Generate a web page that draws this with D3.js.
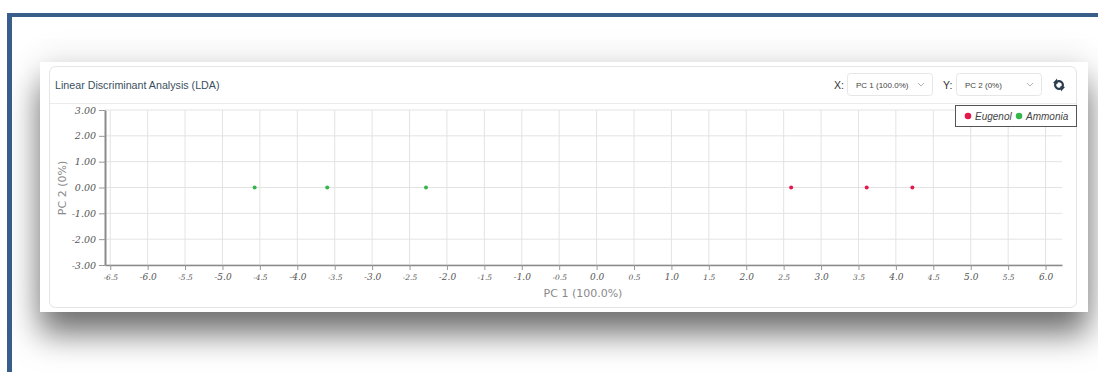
<!DOCTYPE html>
<html><head><meta charset="utf-8">
<script src="https://cdn.jsdelivr.net/npm/d3@7"></script>
<style>
html,body{margin:0;padding:0;width:1098px;height:372px;overflow:hidden;background:#fff;}
#frame{position:absolute;left:7px;top:13px;width:1100px;height:380px;border-left:5px solid #3a5e8c;border-top:4px solid #3a5e8c;box-sizing:border-box;}
#shadowbox{position:absolute;left:40px;top:62px;width:1048px;height:250px;background:#fff;box-shadow:0 22px 30px rgba(0,0,0,0.55),0 -6px 30px rgba(0,0,0,0.08);}
svg{position:absolute;left:0;top:0;}
</style></head>
<body>
<div id="frame"></div>
<div id="shadowbox"></div>
<svg id="chart" width="1098" height="372"></svg>
<script>
// ---- data ----
const seriesNames = ["Eugenol", "Ammonia"];
const seriesColors = ["#e3194c", "#35b64b"];
const eugenolX = [2.60, 3.61, 4.22];
const eugenolY = [0, 0, 0];
const ammoniaX = [-4.57, -3.60, -2.28];
const ammoniaY = [0, 0, 0];
const xTicks = [-6.5,-6.0,-5.5,-5.0,-4.5,-4.0,-3.5,-3.0,-2.5,-2.0,-1.5,-1.0,-0.5,0.0,0.5,1.0,1.5,2.0,2.5,3.0,3.5,4.0,4.5,5.0,5.5,6.0];
const yTicks = [-3,-2,-1,0,1,2,3];
const titleText = "Linear Discriminant Analysis (LDA)";
const xLabel = "PC 1 (100.0%)";
const yLabel = "PC 2 (0%)";
const xSelectText = "PC 1 (100.0%)";
const ySelectText = "PC 2 (0%)";

const svg = d3.select("#chart");
const fmtX = d => d.toFixed(1);
const fmtY = d => d.toFixed(2);

// card
svg.append("rect").attr("x",49.5).attr("y",66.5).attr("width",1027).attr("height",241)
  .attr("rx",6).attr("fill","#fff").attr("stroke","#e4e4e4");
svg.append("line").attr("x1",50).attr("x2",1076).attr("y1",103.5).attr("y2",103.5).attr("stroke","#ececec");
svg.append("text").attr("x",55).attr("y",89).text(titleText)
  .attr("font-family","Liberation Sans, Arial, sans-serif").attr("font-size",10.7).attr("fill","#3b4f5e");

// selects
function selectBox(label, lx, bx, txt){
  svg.append("text").attr("x",lx).attr("y",89).text(label)
    .attr("font-family","Liberation Sans, Arial, sans-serif").attr("font-size",10.5).attr("fill","#333");
  svg.append("rect").attr("x",bx+0.5).attr("y",73.5).attr("width",85).attr("height",22).attr("rx",3)
    .attr("fill","#fff").attr("stroke","#e6e6e6");
  svg.append("text").attr("x",bx+9).attr("y",88).text(txt)
    .attr("font-family","Liberation Sans, Arial, sans-serif").attr("font-size",8).attr("fill","#444");
  svg.append("path").attr("d",`M${bx+71},${83} l3,3 l3,-3`).attr("fill","none").attr("stroke","#aaa").attr("stroke-width",0.9);
}
selectBox("X:", 834, 847, xSelectText);
selectBox("Y:", 943, 956, ySelectText);

// refresh icon
const ic = svg.append("g").attr("transform","translate(1059,85)");
ic.append("path").attr("d", d3.arc()({innerRadius:2.6,outerRadius:5,startAngle:-Math.PI*0.3,endAngle:Math.PI*0.7})).attr("fill","#2b3e4f");
ic.append("path").attr("d", d3.arc()({innerRadius:2.6,outerRadius:5,startAngle:Math.PI*0.7,endAngle:Math.PI*1.7})).attr("fill","#2b3e4f");
ic.append("path").attr("d","M-6,-2 L-2,-6.5 L-1.5,-1Z").attr("fill","#2b3e4f");
ic.append("path").attr("d","M6,2 L2,6.5 L1.5,1Z").attr("fill","#2b3e4f");

// scales
const allX = eugenolX.concat(ammoniaX);
const x = d3.scaleLinear().domain([d3.min(allX)-2, d3.max(allX)+2]).range([105, 1062]);
const y = d3.scaleLinear().domain([-3, 3]).range([265, 110]);

// grid
const grid = svg.append("g");
grid.selectAll("line.v").data(xTicks).enter().append("line")
  .attr("x1",d=>x(d)).attr("x2",d=>x(d)).attr("y1",110).attr("y2",265)
  .attr("stroke","#e3e3e3").attr("stroke-width",1);
grid.selectAll("line.h").data(yTicks).enter().append("line")
  .attr("x1",105).attr("x2",1062).attr("y1",d=>y(d)).attr("y2",d=>y(d))
  .attr("stroke","#e3e3e3").attr("stroke-width",1);

// axes
const xAxis = svg.append("g").attr("transform","translate(0,265)")
  .call(d3.axisBottom(x).tickValues(xTicks).tickSize(5).tickSizeOuter(0).tickFormat(fmtX));
xAxis.select(".domain").attr("stroke","#8a8a8a").attr("stroke-width",1.5);
xAxis.selectAll(".tick line").attr("stroke","#999");
xAxis.selectAll(".tick text")
  .attr("font-family","DejaVu Serif, serif").attr("font-style","italic")
  .attr("font-size",(d)=> (Math.abs(d*2)%2===1) ? 7.5 : 9).attr("fill","#555")
  .attr("dy",(d)=> (Math.abs(d*2)%2===1) ? "0.95em" : "0.8em");

const yAxis = svg.append("g").attr("transform","translate(105,0)")
  .call(d3.axisLeft(y).tickValues(yTicks).tickSize(6).tickSizeOuter(0).tickFormat(fmtY));
yAxis.select(".domain").attr("stroke","#8a8a8a").attr("stroke-width",2);
yAxis.selectAll(".tick line").attr("stroke","#999");
yAxis.selectAll(".tick text")
  .attr("font-family","DejaVu Serif, serif").attr("font-style","italic")
  .attr("font-size",9.5).attr("fill","#555");

// axis labels
svg.append("text").attr("x",583).attr("y",297).attr("text-anchor","middle").text(xLabel)
  .attr("font-family","DejaVu Sans, sans-serif").attr("font-size",11).attr("fill","#8a8a8a");
svg.append("text").attr("transform","translate(66,188) rotate(-90)").attr("text-anchor","middle").text(yLabel)
  .attr("font-family","DejaVu Sans, sans-serif").attr("font-size",11).attr("fill","#8a8a8a");

// points
const series = [
  {name: seriesNames[0], color: seriesColors[0], xs: eugenolX, ys: eugenolY},
  {name: seriesNames[1], color: seriesColors[1], xs: ammoniaX, ys: ammoniaY}
];
series.forEach(s=>{
  svg.append("g").selectAll("circle").data(s.xs.map((v,i)=>[v,s.ys[i]])).enter().append("circle")
    .attr("cx",d=>x(d[0])).attr("cy",d=>y(d[1])).attr("r",2).attr("fill",s.color);
});

// legend
const lg = svg.append("g");
lg.append("rect").attr("x",955.5).attr("y",105.5).attr("width",121).attr("height",21)
  .attr("fill","#fff").attr("stroke","#555").attr("stroke-width",1);
const lx = [968, 1019];
series.forEach((s,i)=>{
  lg.append("circle").attr("cx",lx[i]).attr("cy",116).attr("r",3.3).attr("fill",s.color);
  lg.append("text").attr("x",lx[i]+7).attr("y",119.5).text(s.name)
    .attr("font-family","Liberation Sans, Arial, sans-serif").attr("font-style","italic")
    .attr("font-size",10).attr("fill","#444");
});
</script>
</body></html>
